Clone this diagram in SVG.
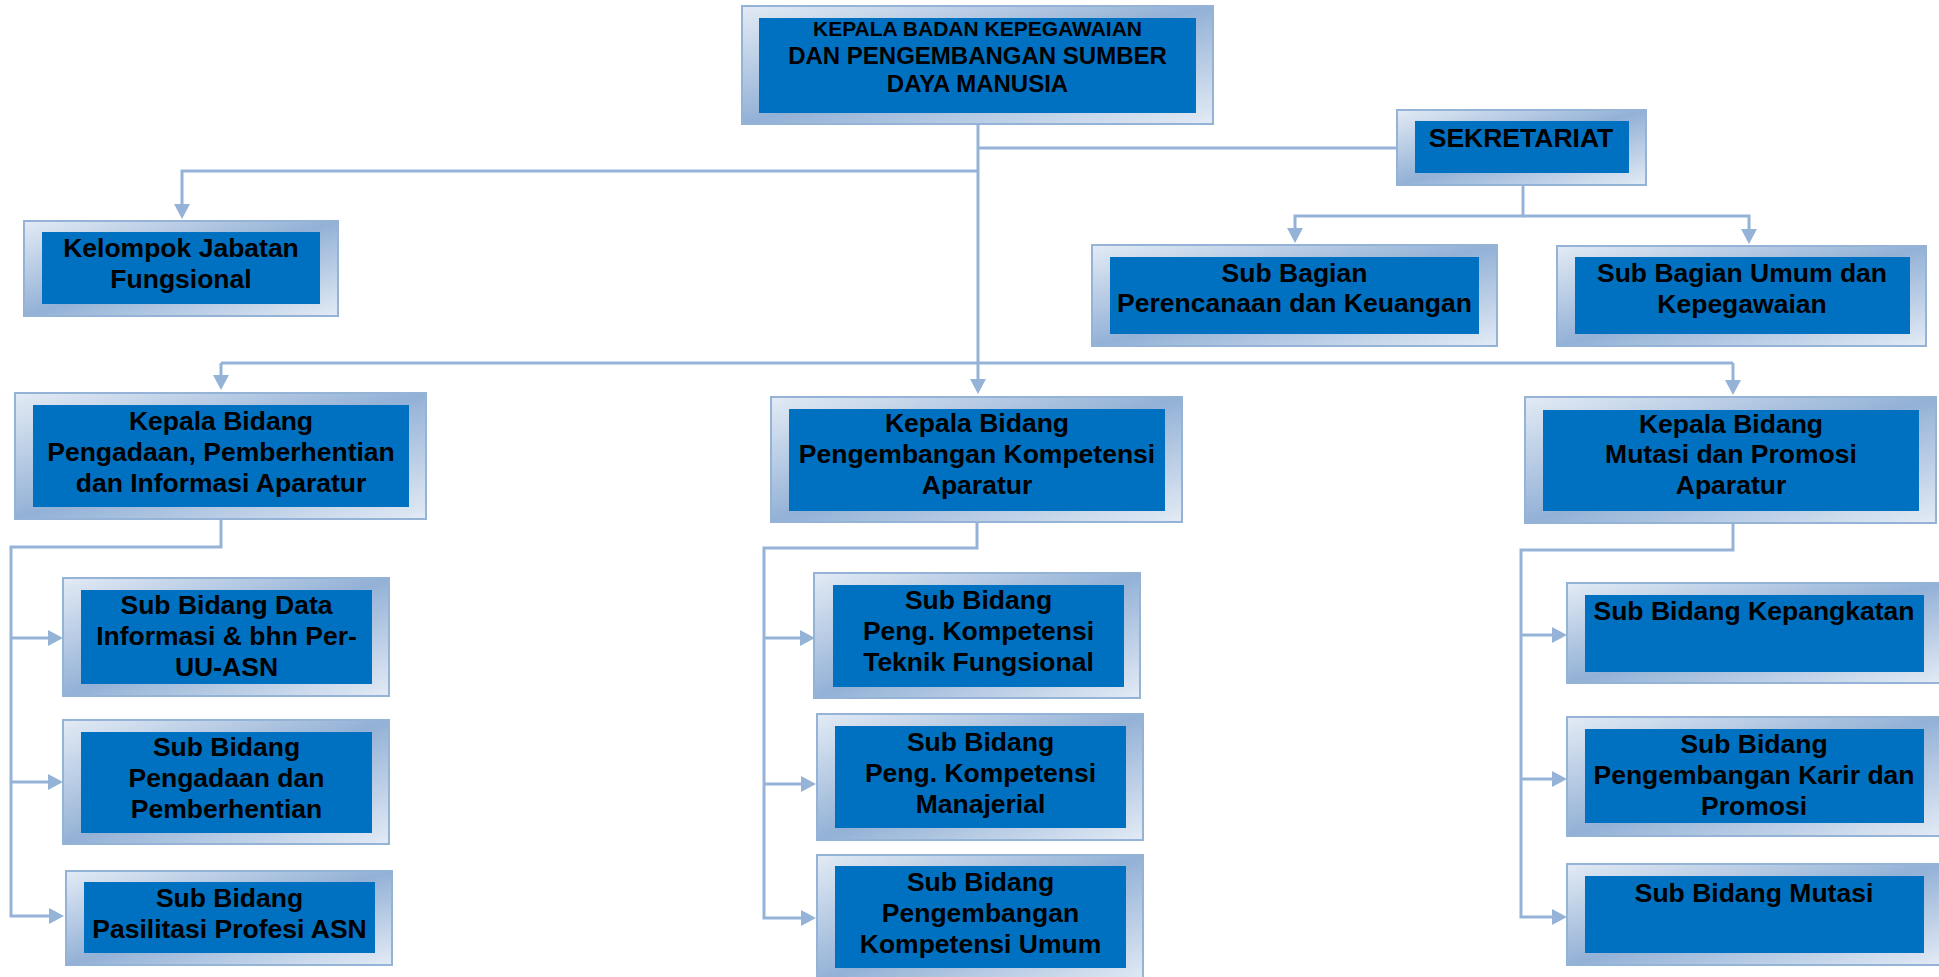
<svg xmlns="http://www.w3.org/2000/svg" width="1939" height="977" viewBox="0 0 1939 977">
<style>
.frame{fill:url(#bevel);stroke:#95b3d7;stroke-width:2}
.inner{fill:#0070c0}
.t{font-family:"Liberation Sans",Arial,sans-serif;font-weight:bold;font-size:26.5px;fill:#000;text-anchor:middle}
.conn{fill:none;stroke:#95b3d7;stroke-width:3}
.arr{marker-end:url(#ah)}
</style>
<defs>
<linearGradient id="bevel" x1="0" y1="0" x2="1" y2="1">
<stop offset="0" stop-color="#e3ebf5"/>
<stop offset="0.5" stop-color="#93b1d6"/>
<stop offset="1" stop-color="#e3ebf5"/>
</linearGradient>
<marker id="ah" markerUnits="userSpaceOnUse" markerWidth="17" markerHeight="17" refX="7" refY="8" orient="auto">
<path d="M0,0 L15,8 L0,16 z" fill="#95b3d7"/>
</marker>
</defs>
<g id="connectors">
<path class="conn arr" d="M978,124 V386"/>
<path class="conn" d="M978,148 H1397"/>
<path class="conn arr" d="M978,171 H182 V211"/>
<path class="conn" d="M221,363 H1733"/>
<path class="conn arr" d="M221,363 V382"/>
<path class="conn arr" d="M1733,363 V387"/>
<path class="conn arr" d="M1523,185 V216 H1295 V235"/>
<path class="conn arr" d="M1523,216 H1749 V236"/>
<path class="conn arr" d="M221,519 V547 H11 V916 H56"/>
<path class="conn arr" d="M11,638 H55"/>
<path class="conn arr" d="M11,782 H55"/>
<path class="conn arr" d="M977,522 V548 H764 V918 H808"/>
<path class="conn arr" d="M764,638 H807"/>
<path class="conn arr" d="M764,784 H808"/>
<path class="conn arr" d="M1733,523 V550 H1521 V917 H1559"/>
<path class="conn arr" d="M1521,635 H1559"/>
<path class="conn arr" d="M1521,779 H1559"/>
</g>
<g id="kepala-badan">
<rect class="frame" x="742" y="6" width="471" height="118"/>
<rect class="inner" x="759" y="18" width="437" height="95"/>
<text class="t" x="977.5" y="36" style="font-size:21px">KEPALA BADAN KEPEGAWAIAN</text>
<text class="t" x="977.5" y="64" style="font-size:24px">DAN PENGEMBANGAN SUMBER</text>
<text class="t" x="977.5" y="92" style="font-size:24px">DAYA MANUSIA</text>
</g>
<g id="sekretariat">
<rect class="frame" x="1397" y="110" width="249" height="75"/>
<rect class="inner" x="1415" y="121" width="214" height="52"/>
<text class="t" x="1521" y="147">SEKRETARIAT</text>
</g>
<g id="kelompok-jabatan">
<rect class="frame" x="24" y="221" width="314" height="95"/>
<rect class="inner" x="42" y="232" width="278" height="72"/>
<text class="t" x="181" y="257">Kelompok Jabatan</text>
<text class="t" x="181" y="288">Fungsional</text>
</g>
<g id="sub-bagian-perencanaan">
<rect class="frame" x="1092" y="245" width="405" height="101"/>
<rect class="inner" x="1110" y="257" width="369" height="77"/>
<text class="t" x="1294.5" y="282">Sub Bagian</text>
<text class="t" x="1294.5" y="312">Perencanaan dan Keuangan</text>
</g>
<g id="sub-bagian-umum">
<rect class="frame" x="1557" y="246" width="369" height="100"/>
<rect class="inner" x="1575" y="257" width="335" height="77"/>
<text class="t" x="1742" y="282">Sub Bagian Umum dan</text>
<text class="t" x="1742" y="313">Kepegawaian</text>
</g>
<g id="kabid-pengadaan">
<rect class="frame" x="15" y="393" width="411" height="126"/>
<rect class="inner" x="33" y="405" width="376" height="102"/>
<text class="t" x="221" y="430">Kepala Bidang</text>
<text class="t" x="221" y="461">Pengadaan, Pemberhentian</text>
<text class="t" x="221" y="492">dan Informasi Aparatur</text>
</g>
<g id="kabid-kompetensi">
<rect class="frame" x="771" y="397" width="411" height="125"/>
<rect class="inner" x="789" y="409" width="376" height="102"/>
<text class="t" x="977" y="432">Kepala Bidang</text>
<text class="t" x="977" y="463">Pengembangan Kompetensi</text>
<text class="t" x="977" y="494">Aparatur</text>
</g>
<g id="kabid-mutasi">
<rect class="frame" x="1525" y="397" width="411" height="126"/>
<rect class="inner" x="1543" y="410" width="376" height="101"/>
<text class="t" x="1731" y="433">Kepala Bidang</text>
<text class="t" x="1731" y="463">Mutasi dan Promosi</text>
<text class="t" x="1731" y="494">Aparatur</text>
</g>
<g id="sub-data-informasi">
<rect class="frame" x="63" y="578" width="326" height="118"/>
<rect class="inner" x="81" y="590" width="291" height="94"/>
<text class="t" x="226.5" y="614">Sub Bidang Data</text>
<text class="t" x="226.5" y="645">Informasi &amp; bhn Per-</text>
<text class="t" x="226.5" y="676">UU-ASN</text>
</g>
<g id="sub-pengadaan">
<rect class="frame" x="63" y="720" width="326" height="124"/>
<rect class="inner" x="81" y="732" width="291" height="101"/>
<text class="t" x="226.5" y="756">Sub Bidang</text>
<text class="t" x="226.5" y="787">Pengadaan dan</text>
<text class="t" x="226.5" y="818">Pemberhentian</text>
</g>
<g id="sub-pasilitasi">
<rect class="frame" x="66" y="871" width="326" height="94"/>
<rect class="inner" x="84" y="882" width="291" height="71"/>
<text class="t" x="229.5" y="907">Sub Bidang</text>
<text class="t" x="229.5" y="938">Pasilitasi Profesi ASN</text>
</g>
<g id="sub-teknik-fungsional">
<rect class="frame" x="814" y="573" width="326" height="125"/>
<rect class="inner" x="833" y="585" width="291" height="102"/>
<text class="t" x="978.5" y="609">Sub Bidang</text>
<text class="t" x="978.5" y="640">Peng. Kompetensi</text>
<text class="t" x="978.5" y="671">Teknik Fungsional</text>
</g>
<g id="sub-manajerial">
<rect class="frame" x="817" y="714" width="326" height="126"/>
<rect class="inner" x="835" y="726" width="291" height="102"/>
<text class="t" x="980.5" y="751">Sub Bidang</text>
<text class="t" x="980.5" y="782">Peng. Kompetensi</text>
<text class="t" x="980.5" y="813">Manajerial</text>
</g>
<g id="sub-kompetensi-umum">
<rect class="frame" x="817" y="855" width="326" height="128"/>
<rect class="inner" x="835" y="866" width="291" height="102"/>
<text class="t" x="980.5" y="891">Sub Bidang</text>
<text class="t" x="980.5" y="922">Pengembangan</text>
<text class="t" x="980.5" y="953">Kompetensi Umum</text>
</g>
<g id="sub-kepangkatan">
<rect class="frame" x="1567" y="583" width="374" height="100"/>
<rect class="inner" x="1585" y="595" width="339" height="77"/>
<text class="t" x="1754" y="620">Sub Bidang Kepangkatan</text>
</g>
<g id="sub-karir">
<rect class="frame" x="1567" y="717" width="374" height="119"/>
<rect class="inner" x="1585" y="729" width="339" height="94"/>
<text class="t" x="1754" y="753">Sub Bidang</text>
<text class="t" x="1754" y="784">Pengembangan Karir dan</text>
<text class="t" x="1754" y="815">Promosi</text>
</g>
<g id="sub-mutasi">
<rect class="frame" x="1567" y="864" width="374" height="101"/>
<rect class="inner" x="1585" y="876" width="339" height="77"/>
<text class="t" x="1754" y="902">Sub Bidang Mutasi</text>
</g>
</svg>
